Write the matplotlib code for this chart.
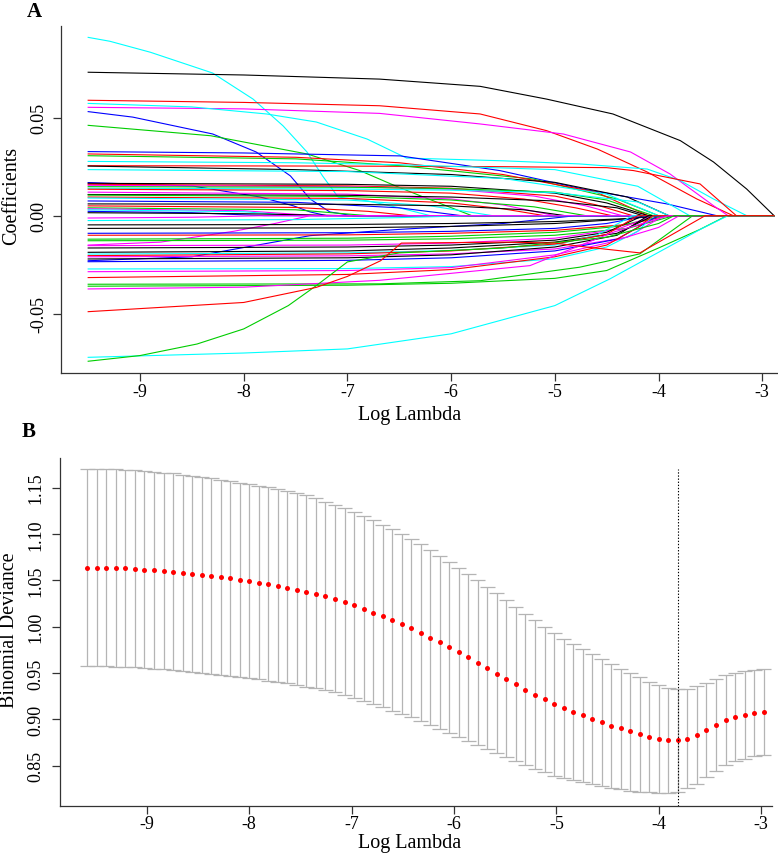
import matplotlib
matplotlib.use("Agg")
import matplotlib.pyplot as plt

plt.rcParams['font.family'] = ['Liberation Serif', 'DejaVu Serif']

# ---- colours used by glmnet's matplot (col = 1:6) ----
K, R, G, B, C, M = 'black', 'red', '#00CD00', 'blue', 'cyan', 'magenta'

# ---- panel A: coefficient paths (knots) ----
path_colors = []
path_x = []
path_y = []

def add_path(col, xs, ys):
    path_colors.append(col)
    path_x.append(xs)
    path_y.append(ys)

# upper, clearly visible paths
add_path(C, [-9.5, -9.29, -8.9, -8.3, -7.91, -7.62, -7.39, -7.24, -7.09, -6.8, -6.5, -6.2],
            [0.0910, 0.0890, 0.0834, 0.0728, 0.0595, 0.0458, 0.0325, 0.0203, 0.0095, 0.0075, 0.0040, 0])
add_path(K, [-9.5, -8.0, -6.69, -5.72, -5.08, -4.44, -3.79, -3.47, -3.15, -2.886],
            [0.0732, 0.0718, 0.0697, 0.0660, 0.0595, 0.0519, 0.0383, 0.0274, 0.0136, 0])
add_path(R, [-9.5, -8.0, -6.69, -5.72, -5.08, -4.59, -4.11, -3.63, -3.28],
            [0.0589, 0.0578, 0.0561, 0.0519, 0.0434, 0.0340, 0.0223, 0.0085, 0])
add_path(M, [-9.5, -8.0, -6.69, -5.72, -4.92, -4.27, -3.89, -3.47, -3.33],
            [0.0553, 0.0545, 0.0522, 0.0468, 0.0417, 0.0325, 0.0213, 0.0051, 0])
add_path(C, [-9.5, -8.5, -7.78, -7.3, -6.81, -6.43, -5.5, -4.76, -4.11, -3.79, -3.47, -3.15],
            [0.0573, 0.0555, 0.0519, 0.0478, 0.0391, 0.0294, 0.0280, 0.0264, 0.0238, 0.0179, 0.0085, 0])
add_path(B, [-9.5, -9.07, -8.3, -7.88, -7.55, -7.36, -7.17, -6.95],
            [0.0531, 0.0503, 0.0417, 0.0325, 0.0203, 0.0085, 0.0019, 0])
add_path(G, [-9.5, -8.32, -7.39, -6.88, -6.56, -6.3, -5.8],
            [0.0461, 0.0408, 0.0315, 0.0230, 0.0157, 0.0102, 0])
add_path(B, [-9.5, -8.0, -6.49, -5.53, -4.73, -3.92, -3.44],
            [0.0327, 0.0320, 0.0305, 0.0230, 0.0136, 0.0060, 0])
add_path(R, [-9.5, -7.0, -5.5, -4.5, -4.24, -3.6, -3.25],
            [0.0255, 0.0253, 0.0250, 0.0245, 0.0230, 0.0162, 0])
add_path(G, [-9.5, -7.5, -6.49, -5.21, -4.4, -4.0],
            [0.0306, 0.0290, 0.0255, 0.0187, 0.0085, 0])
add_path(R, [-9.5, -7.5, -6.5, -5.5, -4.6, -4.1],
            [0.0315, 0.0298, 0.0270, 0.0210, 0.0120, 0])
add_path(K, [-9.5, -7.5, -6.0, -5.0, -4.3, -3.9],
            [0.0253, 0.0235, 0.0210, 0.0170, 0.0095, 0])
add_path(C, [-9.5, -7.5, -6.5, -5.0, -4.2, -3.7],
            [0.0277, 0.0270, 0.0260, 0.0235, 0.0150, 0])
add_path(C, [-9.5, -7.0, -5.5, -4.5, -4.0],
            [0.0235, 0.0225, 0.0190, 0.0110, 0])

# dense positive band
add_path(B, [-9.5, -8.49, -7.84, -7.52, -7.36, -7.2], [0.0169, 0.0151, 0.0095, 0.0050, 0.0019, 0])
add_path(K, [-9.5, -7.0, -6.0, -5.0, -4.5, -4.1], [0.0165, 0.0160, 0.0150, 0.0115, 0.0065, 0])
add_path(R, [-9.5, -7.0, -6.0, -5.0, -4.6, -4.25], [0.0160, 0.0152, 0.0140, 0.0100, 0.0055, 0])
add_path(M, [-9.5, -7.0, -6.0, -5.2, -4.7, -4.35], [0.0155, 0.0148, 0.0135, 0.0100, 0.0050, 0])
add_path(G, [-9.5, -7.0, -6.0, -5.0, -4.5, -4.05], [0.0148, 0.0145, 0.0138, 0.0120, 0.0080, 0])
add_path(C, [-9.5, -7.0, -6.0, -5.0, -4.2, -3.9], [0.0140, 0.0136, 0.0130, 0.0118, 0.0070, 0])
add_path(R, [-9.5, -7.0, -6.0, -5.3, -4.8, -4.45], [0.0135, 0.0128, 0.0115, 0.0085, 0.0040, 0])
add_path(M, [-9.5, -7.0, -6.0, -5.5, -5.0], [0.0120, 0.0110, 0.0085, 0.0055, 0])
add_path(K, [-9.5, -7.0, -6.0, -5.0, -4.4, -4.15], [0.0108, 0.0104, 0.0095, 0.0075, 0.0040, 0])
add_path(G, [-9.5, -7.0, -6.0, -5.2, -4.7], [0.0105, 0.0098, 0.0080, 0.0045, 0])
add_path(R, [-9.5, -7.0, -6.0, -5.5, -5.1], [0.0095, 0.0088, 0.0065, 0.0035, 0])
add_path(C, [-9.5, -7.0, -6.2, -5.6], [0.0090, 0.0080, 0.0050, 0])
add_path(B, [-9.5, -7.5, -6.5, -5.9], [0.0075, 0.0068, 0.0040, 0])
add_path(K, [-9.5, -7.0, -6.0, -5.3, -4.9], [0.0060, 0.0058, 0.0050, 0.0030, 0])
add_path(R, [-9.5, -7.5, -6.8, -6.4], [0.0050, 0.0042, 0.0022, 0])
add_path(G, [-9.5, -7.5, -6.8], [0.0040, 0.0030, 0])
add_path(M, [-9.5, -8.0, -7.3], [0.0035, 0.0025, 0])
add_path(C, [-9.5, -8.0, -7.5], [0.0030, 0.0020, 0])
add_path(B, [-9.5, -8.5, -7.8], [0.0022, 0.0015, 0])
add_path(K, [-9.5, -8.0, -7.0], [0.0015, 0.0010, 0])

# negative side
add_path(M, [-9.5, -8.8, -8.1, -7.7, -7.36], [-0.0150, -0.0135, -0.0080, -0.0040, 0])
add_path(B, [-9.5, -8.5, -7.36, -6.5, -5.5, -4.8], [-0.0230, -0.0210, -0.0102, -0.0070, -0.0040, 0])
add_path(K, [-9.5, -7.0, -6.0, -5.0, -4.3, -3.95], [-0.0047, -0.0045, -0.0040, -0.0030, -0.0015, 0])
add_path(K, [-9.5, -7.0, -6.0, -5.0, -4.4, -4.0], [-0.0065, -0.0062, -0.0055, -0.0040, -0.0020, 0])
add_path(C, [-9.5, -7.5, -6.5, -5.8], [-0.0025, -0.0020, -0.0010, 0])
add_path(M, [-9.5, -8.5, -7.8], [-0.0012, -0.0008, 0])
add_path(B, [-9.5, -7.0, -6.0, -5.0, -4.5, -4.1], [-0.0090, -0.0087, -0.0080, -0.0065, -0.0040, 0])
add_path(R, [-9.5, -7.0, -6.0, -5.0, -4.3, -3.9], [-0.0100, -0.0098, -0.0090, -0.0075, -0.0045, 0])
add_path(G, [-9.5, -7.0, -6.0, -5.0, -4.4, -3.95], [-0.0120, -0.0115, -0.0105, -0.0085, -0.0055, 0])
add_path(G, [-9.5, -7.0, -6.0, -5.0, -4.3, -3.85], [-0.0128, -0.0125, -0.0118, -0.0100, -0.0065, 0])
add_path(M, [-9.5, -7.0, -6.0, -5.0, -4.4, -4.05], [-0.0153, -0.0150, -0.0140, -0.0115, -0.0070, 0])
add_path(K, [-9.5, -7.0, -6.0, -5.0, -4.5, -4.15], [-0.0165, -0.0160, -0.0150, -0.0125, -0.0085, 0])
add_path(K, [-9.5, -7.0, -6.0, -5.0, -4.4, -4.05], [-0.0187, -0.0180, -0.0165, -0.0135, -0.0090, 0])
add_path(C, [-9.5, -7.0, -6.0, -5.0, -4.6, -4.25], [-0.0196, -0.0190, -0.0178, -0.0150, -0.0100, 0])
add_path(R, [-9.5, -7.0, -6.0, -5.0, -4.5, -4.2], [-0.0204, -0.0195, -0.0180, -0.0145, -0.0095, 0])
add_path(M, [-9.5, -7.0, -6.0, -5.0, -4.3, -3.95], [-0.0210, -0.0205, -0.0195, -0.0170, -0.0110, 0])
add_path(K, [-9.5, -7.0, -6.0, -5.0, -4.4, -4.1], [-0.0221, -0.0215, -0.0200, -0.0160, -0.0100, 0])
add_path(B, [-9.5, -7.0, -6.0, -5.0, -4.4, -4.0], [-0.0235, -0.0228, -0.0215, -0.0180, -0.0120, 0])
add_path(C, [-9.5, -7.0, -6.0, -5.0, -4.5, -4.2, -4.05], [-0.0272, -0.0270, -0.0260, -0.0220, -0.0160, -0.0080, 0])
add_path(M, [-9.5, -7.0, -6.0, -5.0, -4.5, -4.0, -3.8], [-0.0286, -0.0280, -0.0265, -0.0200, -0.0140, -0.0060, 0])
add_path(R, [-9.5, -7.0, -6.0, -5.0, -4.5, -4.2, -4.05], [-0.0316, -0.0300, -0.0275, -0.0210, -0.0150, -0.0060, 0])
add_path(G, [-9.5, -6.69, -5.72, -4.76, -4.18, -3.67], [-0.0350, -0.0348, -0.0332, -0.0263, -0.0195, 0])
add_path(G, [-9.5, -7.0, -6.0, -5.0, -4.5, -4.0, -3.6, -3.34], [-0.0360, -0.0355, -0.0345, -0.0320, -0.0280, -0.0165, -0.0070, 0])
add_path(M, [-9.5, -8.0, -6.69, -5.24, -4.76, -4.44, -4.11, -3.9],
            [-0.0374, -0.0365, -0.0330, -0.0255, -0.0153, -0.0085, -0.0033, 0])
add_path(C, [-9.5, -8.0, -7.0, -6.0, -5.0, -4.47, -4.0, -3.59, -3.33],
            [-0.0723, -0.0701, -0.0680, -0.0603, -0.0459, -0.0323, -0.0187, -0.0068, 0])
add_path(G, [-9.5, -9.0, -8.45, -8.0, -7.57, -7.3, -7.0, -6.5, -5.5, -4.5, -4.0, -3.85],
            [-0.0743, -0.0714, -0.0655, -0.0578, -0.0459, -0.0357, -0.0236, -0.0190, -0.0165, -0.0110, -0.0040, 0])
add_path(R, [-9.5, -8.0, -7.3, -7.0, -6.68, -6.48, -5.5, -5.0, -4.7, -4.18, -3.55],
            [-0.0490, -0.0443, -0.0366, -0.0310, -0.0230, -0.0140, -0.0135, -0.0140, -0.0160, -0.0190, 0])

log_lambda_end = -2.886

# ---- panel B: cross-validation curve ----
cv_log_lambda = [
    -9.580, -9.487, -9.394, -9.301, -9.208, -9.115, -9.022, -8.929, -8.836, -8.743,
    -8.650, -8.557, -8.464, -8.371, -8.278, -8.185, -8.092, -7.999, -7.906, -7.813,
    -7.720, -7.627, -7.534, -7.441, -7.348, -7.255, -7.162, -7.069, -6.976, -6.883,
    -6.790, -6.697, -6.604, -6.511, -6.418, -6.325, -6.232, -6.139, -6.046, -5.953,
    -5.860, -5.767, -5.674, -5.581, -5.488, -5.395, -5.302, -5.209, -5.116, -5.023,
    -4.930, -4.837, -4.744, -4.651, -4.558, -4.465, -4.372, -4.279, -4.186, -4.093,
    -4.000, -3.907, -3.814, -3.721, -3.628, -3.535, -3.442, -3.349, -3.256, -3.163,
    -3.070, -2.977]
cv_mean = [
    1.0633, 1.0633, 1.0633, 1.0633, 1.0630, 1.0622, 1.0615, 1.0607, 1.0600, 1.0593,
    1.0582, 1.0571, 1.0561, 1.0546, 1.0532, 1.0521, 1.0507, 1.0489, 1.0471, 1.0457,
    1.0435, 1.0417, 1.0399, 1.0377, 1.0352, 1.0327, 1.0302, 1.0270, 1.0234, 1.0194,
    1.0151, 1.0112, 1.0072, 1.0029, 0.9982, 0.9932, 0.9882, 0.9832, 0.9778, 0.9724,
    0.9670, 0.9612, 0.9555, 0.9494, 0.9436, 0.9379, 0.9321, 0.9264, 0.9217, 0.9167,
    0.9120, 0.9081, 0.9045, 0.9005, 0.8969, 0.8934, 0.8905, 0.8873, 0.8840, 0.8811,
    0.8790, 0.8779, 0.8776, 0.8790, 0.8829, 0.8883, 0.8941, 0.8991, 0.9023, 0.9048,
    0.9070, 0.9084]
cv_upper = [
    1.1699, 1.1699, 1.1699, 1.1696, 1.1692, 1.1689, 1.1678, 1.1671, 1.1660, 1.1653,
    1.1638, 1.1628, 1.1613, 1.1602, 1.1584, 1.1570, 1.1552, 1.1538, 1.1520, 1.1502,
    1.1480, 1.1459, 1.1437, 1.1416, 1.1383, 1.1347, 1.1311, 1.1279, 1.1236, 1.1193,
    1.1146, 1.1096, 1.1049, 1.0999, 1.0945, 1.0888, 1.0827, 1.0765, 1.0701, 1.0633,
    1.0568, 1.0500, 1.0431, 1.0360, 1.0288, 1.0212, 1.0140, 1.0072, 0.9997, 0.9932,
    0.9871, 0.9810, 0.9756, 0.9702, 0.9648, 0.9594, 0.9548, 0.9501, 0.9454, 0.9408,
    0.9372, 0.9343, 0.9329, 0.9329, 0.9357, 0.9397, 0.9440, 0.9480, 0.9501, 0.9519,
    0.9537, 0.9548]
cv_lower = [
    0.9573, 0.9573, 0.9573, 0.9569, 0.9566, 0.9562, 0.9555, 0.9548, 0.9541, 0.9533,
    0.9523, 0.9512, 0.9501, 0.9490, 0.9480, 0.9469, 0.9458, 0.9447, 0.9433, 0.9418,
    0.9404, 0.9390, 0.9372, 0.9350, 0.9336, 0.9314, 0.9293, 0.9268, 0.9235, 0.9199,
    0.9167, 0.9131, 0.9095, 0.9059, 0.9023, 0.8984, 0.8941, 0.8898, 0.8855, 0.8811,
    0.8768, 0.8725, 0.8682, 0.8635, 0.8592, 0.8549, 0.8506, 0.8467, 0.8431, 0.8395,
    0.8370, 0.8348, 0.8327, 0.8305, 0.8283, 0.8265, 0.8248, 0.8233, 0.8222, 0.8215,
    0.8212, 0.8212, 0.8222, 0.8258, 0.8309, 0.8377, 0.8445, 0.8506, 0.8549, 0.8578,
    0.8603, 0.8621]
lambda_min_log = -3.814

x_ticks = [-9, -8, -7, -6, -5, -4, -3]
coef_ticks = [-0.05, 0.00, 0.05]
coef_tick_labels = ['-0.05', '0.00', '0.05']
dev_ticks = [0.85, 0.90, 0.95, 1.00, 1.05, 1.10, 1.15]
dev_tick_labels = ['0.85', '0.90', '0.95', '1.00', '1.05', '1.10', '1.15']

W, H = 778, 854
fig = plt.figure(figsize=(W / 100, H / 100), dpi=100)


def style_axes(ax):
    for s in ['top', 'right']:
        ax.spines[s].set_visible(False)
    for s in ['left', 'bottom']:
        ax.spines[s].set_color('#333333')
        ax.spines[s].set_linewidth(0.9)
    ax.tick_params(direction='out', length=5.5, width=0.9, color='#333333',
                   labelsize=13, pad=4)


# ---- panel A ----
axA = fig.add_axes([61 / W, 1 - 374 / H, 717 / W, 347 / H])
for col, xs, ys in zip(path_colors, path_x, path_y):
    xx = list(xs)
    yy = list(ys)
    if xx[-1] < log_lambda_end:
        xx.append(log_lambda_end)
        yy.append(0)
    axA.plot(xx, yy, color=col, lw=0.8, solid_joinstyle='round')
axA.set_xlim(-9.762, -2.848)
axA.set_ylim(-0.0803, 0.0968)
style_axes(axA)
axA.set_xticks(x_ticks)
axA.set_xticklabels([str(t) for t in x_ticks])
axA.set_yticks(coef_ticks)
axA.set_yticklabels(coef_tick_labels, rotation=90, va='center')
axA.tick_params(axis='x', pad=2)

fig.text(410 / W, 1 - 416 / H, 'Log Lambda', ha='center', va='center', fontsize=14.5)
fig.text(12 / W, 1 - 196 / H, 'Coefficients', ha='center', va='center',
         rotation=90, fontsize=14.5)
fig.text(34 / W, 1 - 12 / H, 'A', ha='center', va='center', fontsize=15,
         fontweight='bold')

# ---- panel B ----
axB = fig.add_axes([60 / W, 1 - 806.7 / H, 712 / W, 347.4 / H])
cap = 0.073
axB.vlines(cv_log_lambda, cv_lower, cv_upper, color='#B4B4B4', lw=0.9)
axB.hlines(cv_upper, [x - cap for x in cv_log_lambda], [x + cap for x in cv_log_lambda],
           color='#B4B4B4', lw=0.9)
axB.hlines(cv_lower, [x - cap for x in cv_log_lambda], [x + cap for x in cv_log_lambda],
           color='#B4B4B4', lw=0.9)
axB.plot(cv_log_lambda, cv_mean, 'o', color='red', ms=3.6, mec='red', mew=0)
axB.axvline(lambda_min_log, ymin=0, ymax=0.97, color='black', lw=0.8,
            ls=(0, (1.2, 1.6)))
axB.set_xlim(-9.847, -2.895)
axB.set_ylim(0.807, 1.1815)
style_axes(axB)
axB.set_xticks(x_ticks)
axB.set_xticklabels([str(t) for t in x_ticks])
axB.set_yticks(dev_ticks)
axB.set_yticklabels(dev_tick_labels, rotation=90, va='center')
axB.tick_params(axis='x', pad=1)
axB.tick_params(axis='y', pad=6)

fig.text(410 / W, 1 - 844 / H, 'Log Lambda', ha='center', va='center', fontsize=14.5)
fig.text(10 / W, 1 - 630 / H, 'Binomial Deviance', ha='center', va='center',
         rotation=90, fontsize=14.5)
fig.text(29 / W, 1 - 432 / H, 'B', ha='center', va='center', fontsize=15,
         fontweight='bold')

fig.savefig('out.png', dpi=100)
